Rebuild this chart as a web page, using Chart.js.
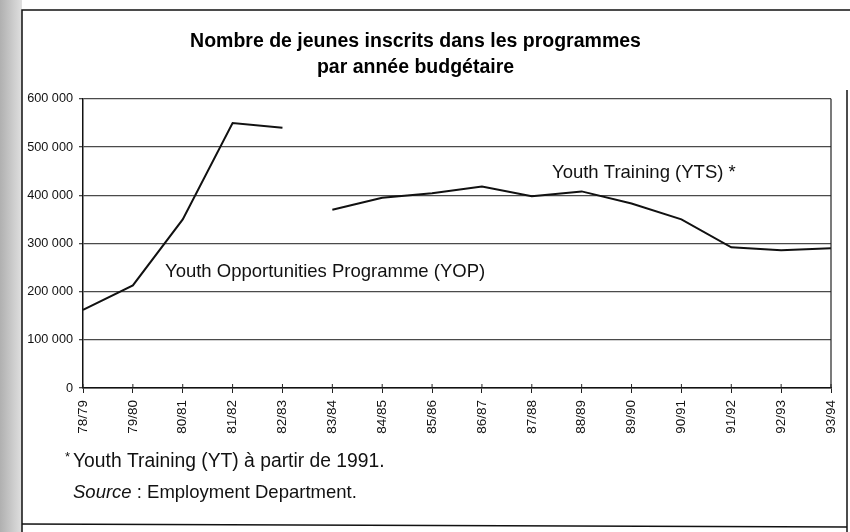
<!DOCTYPE html>
<html>
<head>
<meta charset="utf-8">
<script src="https://cdn.jsdelivr.net/npm/chart.js@4/dist/chart.umd.min.js"></script>
<style>
html,body{margin:0;padding:0;background:#fff}
#wrap{width:850px;height:532px;position:relative}
</style>
</head>
<body>
<div id="wrap"><canvas id="c" width="850" height="532"></canvas></div>
<script>

/* data */
let years = ["78/79","79/80","80/81","81/82","82/83","83/84","84/85","85/86","86/87","87/88","88/89","89/90","90/91","91/92","92/93","93/94"]
let yop = [162000,213000,350000,550000,540000,null,null,null,null,null,null,null,null,null,null,null]
let yts = [null,null,null,null,null,370000,395000,404000,418000,398000,408000,383000,350000,292000,286000,290000]
let yTicks = [0,100000,200000,300000,400000,500000,600000]

let titleLines = ["Nombre de jeunes inscrits dans les programmes","par année budgétaire"]
let noteYOP = "Youth Opportunities Programme (YOP)"
let noteYTS = "Youth Training (YTS) *"
let footnote = "Youth Training (YT) à partir de 1991."
let sourceLabel = "Source"
let sourceText = " : Employment Department."

let FONT = "'Liberation Sans', Arial, sans-serif"

function fmt(v){
return String(v).replace(/\B(?=(\d{3})+(?!\d))/g," ")
}

/* =========================
   PAGE FRAME + TEXTS
========================= */

let pagePlugin = {
id:"page",
beforeDraw(chart){
let ctx = chart.ctx
ctx.save()
ctx.fillStyle = "#fff"
ctx.fillRect(0,0,chart.width,chart.height)

/* grey halftone strip of the scan on the left */
let g = ctx.createLinearGradient(0,0,24,0)
g.addColorStop(0,"#b0b0b0")
g.addColorStop(1,"#e4e4e4")
ctx.fillStyle = g
ctx.fillRect(0,0,22,chart.height)

/* page frame */
ctx.strokeStyle = "#111"
ctx.lineWidth = 1.5
ctx.beginPath()
ctx.moveTo(22,chart.height)
ctx.lineTo(22,10)
ctx.lineTo(chart.width,10)
ctx.stroke()
ctx.beginPath()
ctx.moveTo(847,90)
ctx.lineTo(847,chart.height)
ctx.stroke()
ctx.beginPath()
ctx.moveTo(22,524)
ctx.lineTo(847,527)
ctx.stroke()
ctx.restore()
},
afterDraw(chart){
let ctx = chart.ctx
let area = chart.chartArea
let xs = chart.scales.x
ctx.save()

/* right border of the plot */
ctx.strokeStyle = "#222"
ctx.lineWidth = 1.2
ctx.beginPath()
ctx.moveTo(area.right,area.top)
ctx.lineTo(area.right,area.bottom)
ctx.stroke()

/* small crosses on the category axis */
ctx.strokeStyle = "#222"
ctx.lineWidth = 1
for(let i=0;i<years.length;i++){
let x = xs.getPixelForTick(i)
ctx.beginPath()
ctx.moveTo(x,area.bottom-4)
ctx.lineTo(x,area.bottom)
ctx.stroke()
}

/* series labels */
ctx.fillStyle = "#111"
ctx.textBaseline = "middle"
ctx.textAlign = "left"
ctx.font = "18.5px "+FONT
ctx.fillText(noteYTS,552,173)
ctx.fillText(noteYOP,165,272)

/* footnotes */
ctx.font = "13px "+FONT
ctx.fillText("*",65,457)
ctx.font = "19.3px "+FONT
ctx.fillText(footnote,73,462)
ctx.font = "italic 18.5px "+FONT
ctx.fillText(sourceLabel,73,493)
let w = ctx.measureText(sourceLabel).width
ctx.font = "18.5px "+FONT
ctx.fillText(sourceText,73+w,493)

ctx.restore()
}
}

/* =========================
   CHART
========================= */

let ctx = document.getElementById("c").getContext("2d")

let chart = new Chart(ctx,{
type:"line",
data:{
labels:years,
datasets:[
{
label:"YOP",
data:yop,
borderColor:"#111",
borderWidth:2,
pointRadius:0,
tension:0,
spanGaps:false
},
{
label:"YTS",
data:yts,
borderColor:"#111",
borderWidth:2,
pointRadius:0,
tension:0,
spanGaps:false
}
]
},
options:{
responsive:false,
animation:false,
layout:{padding:{left:0,right:19,top:0,bottom:0}},
plugins:{
legend:{display:false},
tooltip:{enabled:false},
title:{
display:true,
text:titleLines,
color:"#000",
font:{family:FONT,size:19.5,weight:"bold",lineHeight:1.33},
padding:{top:29,bottom:18}
}
},
scales:{
x:{
offset:false,
afterFit(scale){
scale.height = 144
scale.paddingLeft = 0
scale.paddingRight = 0
},
grid:{drawOnChartArea:false,drawTicks:true,tickLength:5,color:"#222"},
border:{display:true,color:"#111",width:1.5},
ticks:{
color:"#111",
font:{family:FONT,size:13.5},
minRotation:90,
maxRotation:90,
padding:7,
autoSkip:false
}
},
y:{
min:0,
max:600000,
afterFit(scale){ scale.width = 83 },
afterBuildTicks(scale){ scale.ticks = yTicks.map(v=>({value:v})) },
grid:{color:"#4a4a4a",lineWidth:1.3,tickLength:4},
border:{display:true,color:"#111",width:1.5},
ticks:{
color:"#111",
font:{family:FONT,size:12.7},
padding:6,
callback:v=>fmt(v)
}
}
}
},
plugins:[pagePlugin]
})

</script>
</body>
</html>
